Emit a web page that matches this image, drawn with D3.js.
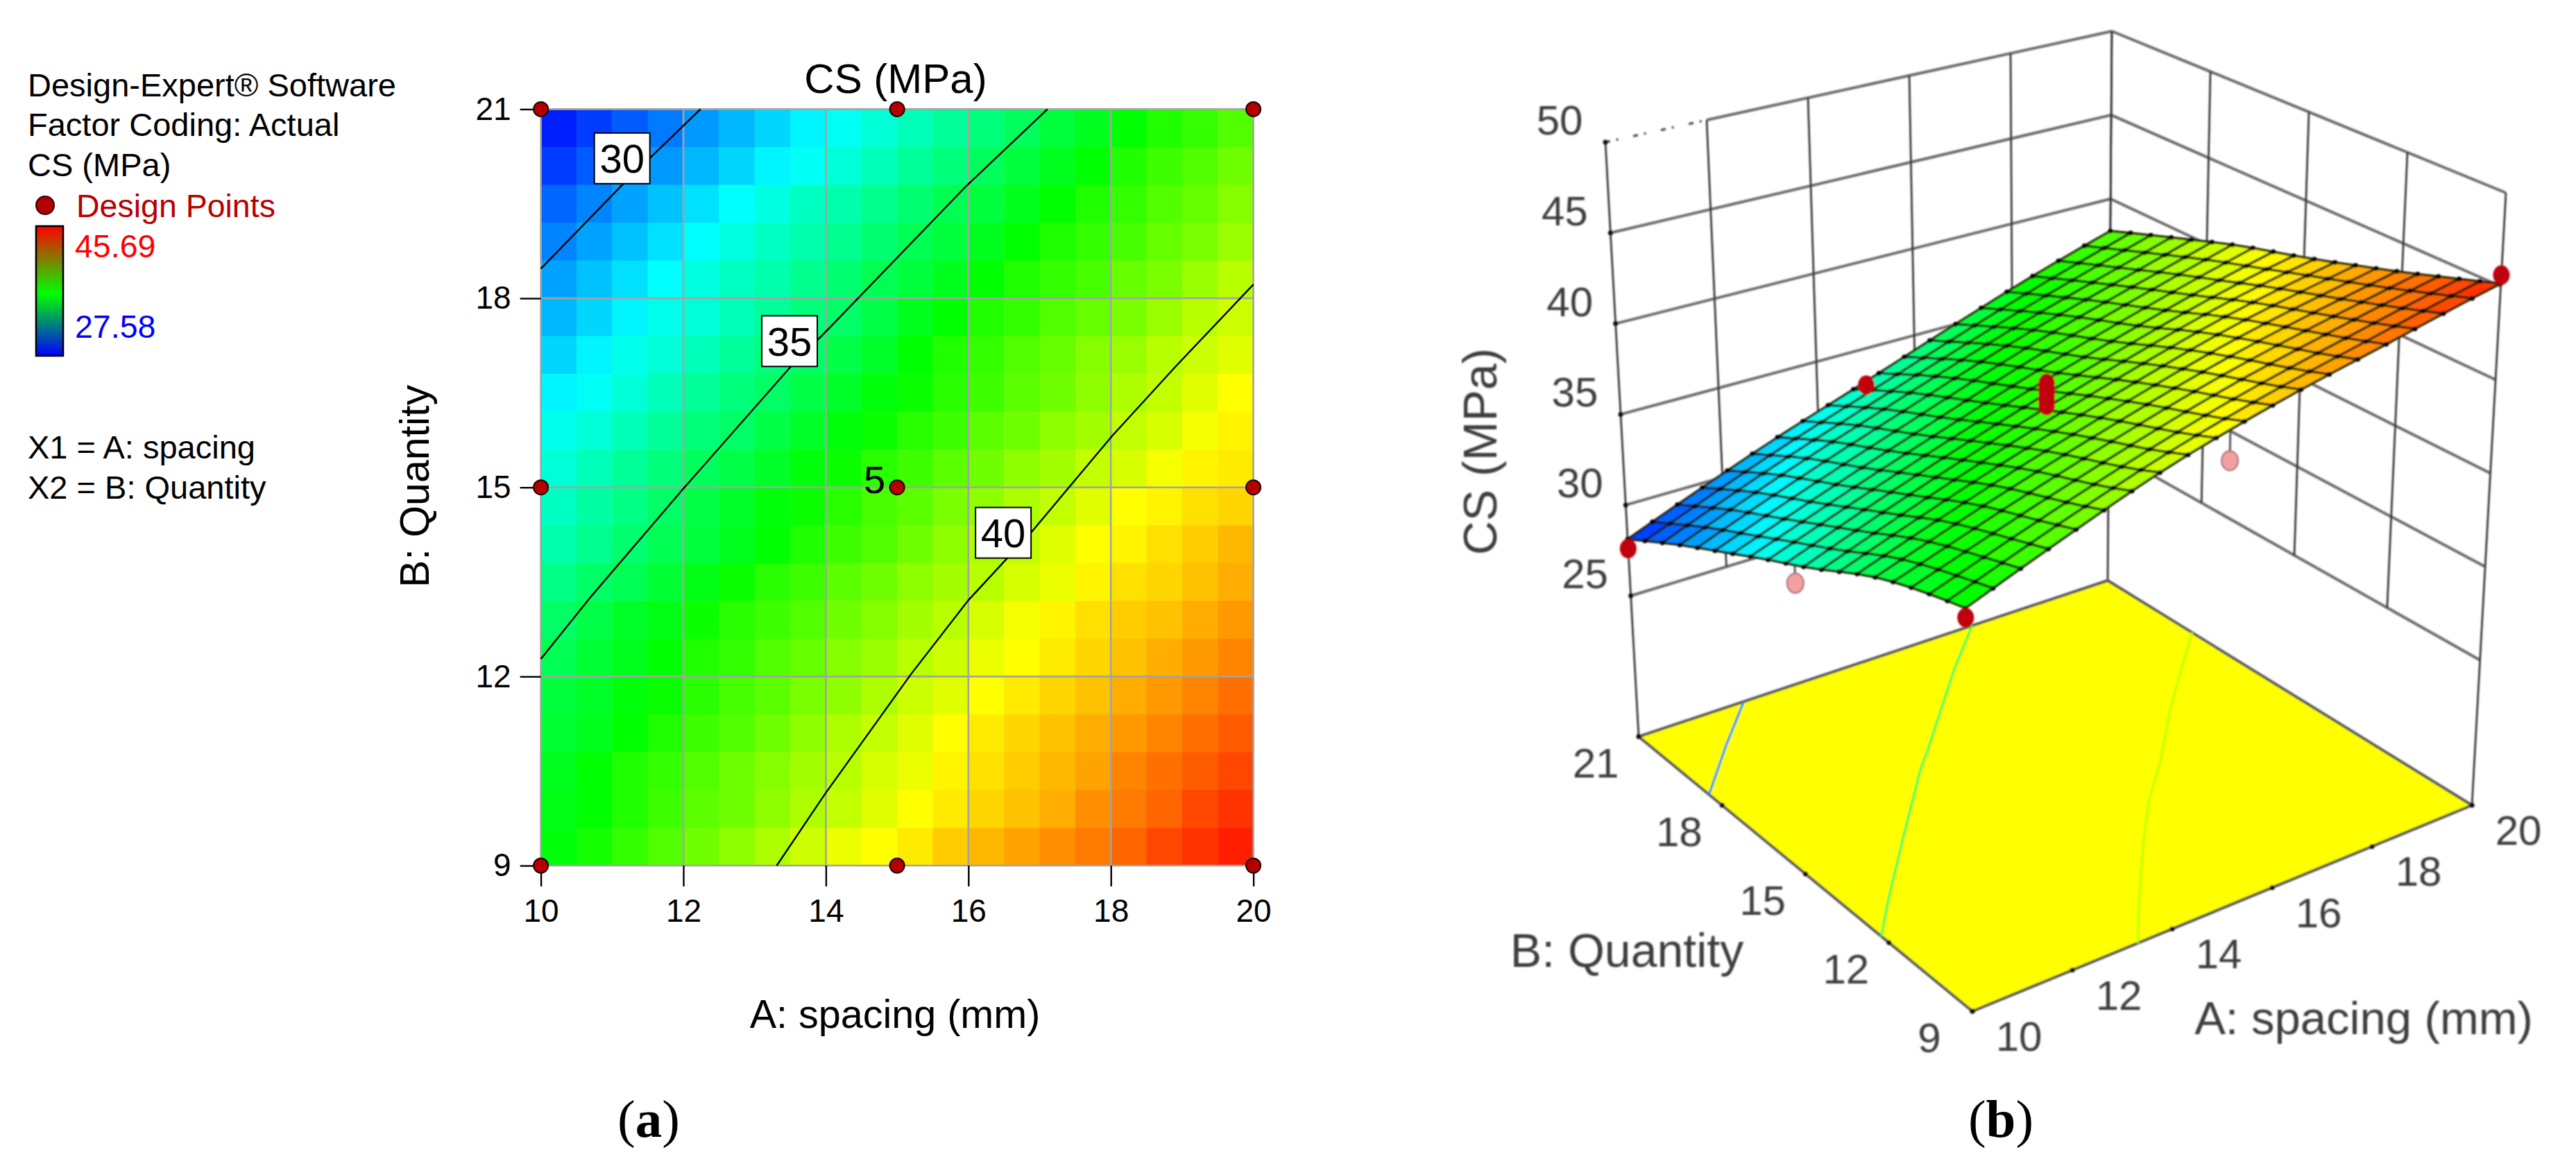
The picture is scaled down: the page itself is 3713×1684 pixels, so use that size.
<!DOCTYPE html>
<html><head><meta charset="utf-8">
<script src="https://cdnjs.cloudflare.com/ajax/libs/d3/7.8.5/d3.min.js"></script>
<style>
html,body{margin:0;padding:0;background:#fff}
text{font-family:"Liberation Sans",Arial,sans-serif}
</style></head><body><svg id="c" width="3713" height="1684"></svg>
<script>
// ---------- data ----------
const aTicks=[10,12,14,16,18,20];
const bTicks=[9,12,15,18,21];
const zTicks=[25,30,35,40,45,50];
const csMin=27.58, csMax=45.69;
const legendLines=["Design-Expert® Software","Factor Coding: Actual","CS (MPa)"];
const factorLines=["X1 = A: spacing","X2 = B: Quantity"];
// colour position of each grid cell: 0 = 27.58 MPa (blue), 100 = 45.69 MPa (red). Row 0 is B = 21, column 0 is A = 10.
const cellLevel=[
[3,6,9,12,15,18,21,24,26,29,32,35,38,41,44,47,50,53,55,58],
[6,9,12,15,18,21,24,26,29,32,35,38,41,44,47,50,53,56,58,61],
[10,13,16,19,22,25,28,31,33,36,39,42,44,47,50,53,55,58,60,63],
[13,16,19,22,25,28,31,33,36,39,42,44,47,50,53,55,57,60,62,65],
[16,19,22,25,28,31,33,36,39,42,44,47,50,53,55,57,60,62,65,68],
[18,21,24,27,29,32,35,38,40,43,47,50,53,55,58,60,62,65,68,70],
[21,24,27,29,32,35,38,40,43,46,50,53,55,58,60,63,65,68,70,72],
[24,26,29,32,35,38,40,43,46,49,51,54,56,59,61,64,67,69,72,75],
[27,29,32,35,38,40,43,46,49,51,54,56,59,61,64,66,69,71,74,76],
[29,32,35,38,41,43,46,49,51,54,56,59,61,64,66,69,71,74,76,77],
[31,34,37,40,43,46,49,51,54,57,59,62,64,67,69,72,75,76,78,79],
[33,36,39,42,44,47,50,53,56,58,61,64,67,69,72,75,76,78,80,82],
[37,40,42,45,48,51,54,56,59,61,64,66,68,71,73,76,78,79,81,83],
[40,43,46,48,51,54,56,58,61,63,66,68,71,74,76,78,80,81,83,85],
[42,45,47,50,53,55,58,60,63,65,68,70,73,75,77,79,81,83,85,87],
[44,46,49,51,54,57,59,62,64,67,70,72,75,77,79,81,83,85,87,89],
[45,47,50,53,56,58,61,64,67,69,72,75,77,79,81,83,85,87,89,91],
[47,50,53,55,58,61,63,66,68,71,73,76,78,80,82,84,87,89,91,93],
[48,50,53,56,59,61,64,67,69,72,75,77,79,81,83,86,88,90,93,95],
[49,52,55,58,61,64,67,70,73,75,77,80,82,84,86,88,90,93,95,97]];
const contour30=[[10,18.47],[11.16,19.82],[12.24,21]];
const contour35=[[10,12.28],[10.72,13.29],[12,14.98],[13.51,16.92],[13.99,17.46],[15.97,19.78],[17.11,21]];
const contour40=[[13.31,9],[13.99,10.14],[15.19,12.03],[16,13.21],[16.9,14.31],[18.02,15.82],[18.91,16.92],[20,18.22]];
const contourLevels=[30,35,40];
const contourLabelAt=[[11.14,20.22],[13.49,17.32],[16.49,14.28]];
const designA=[10,15,20,10,15,20,10,15,20];
const designB=[21,21,21,15,15,15,9,9,9];
// measured CS at the design points, including the centre replicates, as placed in the 3D view
const pointA=[10,15,20,10,20,10,15,20,15,15,15,15,15];
const pointB=[21,21,21,15,15,9,9,9,15,15,15,15,15];
const pointCS=[27.6,32.9,37.4,32.1,41.0,36.0,39.8,45.6,37.5,37.8,38.1,38.4,38.7];
const pointHidden=[0,0,1,1,1,0,1,0,0,0,0,0,0];

const svg=d3.select("#c");
svg.append("rect").attr("width",3713).attr("height",1684).attr("fill","#fff");
const level2color=d3.scaleLinear().domain([0,25,50,75,100]).range(["#0000ff","#00ffff","#00ff00","#ffff00","#ff0000"]).clamp(true);
const level2cs=d3.scaleLinear().domain([0,100]).range([csMin,csMax]);
const cs2level=level2cs.copy().domain([csMin,csMax]).range([0,100]);

// ---------- panel (a) ----------
const xA=d3.scaleLinear().domain([10,20]).range([779.6,1806.6]);
const yB=d3.scaleLinear().domain([9,21]).range([1248,157.4]);
const gA=svg.append("g");
const nCols=cellLevel[0].length,nRows=cellLevel.length;
const colA=d3.scaleLinear().domain([0,nCols]).range([10,20]);
const rowB=d3.scaleLinear().domain([0,nRows]).range([21,9]);
cellLevel.forEach((row,r)=>{
  gA.append("g").selectAll("rect").data(row).join("rect")
   .attr("x",(d,c)=>xA(colA(c))).attr("y",yB(rowB(r)))
   .attr("width",(d,c)=>xA(colA(c+1))-xA(colA(c))+0.5)
   .attr("height",yB(rowB(r+1))-yB(rowB(r))+0.5)
   .attr("fill",d=>level2color(d));
});
// grid
const grid=gA.append("g").attr("stroke","#a3a3a3").attr("stroke-width",2.6);
aTicks.forEach(a=>grid.append("line").attr("x1",xA(a)).attr("x2",xA(a)).attr("y1",yB(9)).attr("y2",yB(21)));
bTicks.forEach(b=>grid.append("line").attr("y1",yB(b)).attr("y2",yB(b)).attr("x1",xA(10)).attr("x2",xA(20)));
// contours
const lineA=d3.line().x(d=>xA(d[0])).y(d=>yB(d[1]));
[contour30,contour35,contour40].forEach(c=>gA.append("path").attr("d",lineA(c)).attr("fill","none").attr("stroke","#000").attr("stroke-width",2.4));
// contour labels
contourLevels.forEach((lv,i)=>{
  const [a,b]=contourLabelAt[i];
  gA.append("rect").attr("x",xA(a)-40).attr("y",yB(b)-36.5).attr("width",80).attr("height",73).attr("fill","#fff").attr("stroke","#000").attr("stroke-width",2);
  gA.append("text").attr("x",xA(a)).attr("y",yB(b)+21).attr("text-anchor","middle").attr("font-size",58).text(lv);
});
// axes
const axX=gA.append("g").attr("transform",`translate(0,${yB(9)})`).call(d3.axisBottom(xA).tickValues(aTicks).tickSize(30).tickPadding(18).tickSizeOuter(0));
const axY=gA.append("g").attr("transform",`translate(${xA(10)},0)`).call(d3.axisLeft(yB).tickValues(bTicks).tickSize(30).tickPadding(13).tickSizeOuter(0));
[axX,axY].forEach(ax=>{ax.select(".domain").remove();ax.selectAll("line").attr("stroke","#000").attr("stroke-width",2.4);ax.selectAll("text").attr("font-size",46).attr("fill","#000").style("font-family","'Liberation Sans'");});
// design points
gA.append("g").selectAll("circle").data(designA).join("circle")
 .attr("cx",d=>xA(d)).attr("cy",(d,i)=>yB(designB[i])).attr("r",10.5)
 .attr("fill","#b30000").attr("stroke","#200").attr("stroke-width",2);
gA.append("text").attr("x",xA(15)-17).attr("y",yB(15)+8).attr("text-anchor","end").attr("font-size",56).text("5");
gA.append("text").attr("x",1291).attr("y",134).attr("text-anchor","middle").attr("font-size",60).text("CS (MPa)");
gA.append("text").attr("x",1290).attr("y",1482).attr("text-anchor","middle").attr("font-size",57.5).text("A: spacing (mm)");
gA.append("text").attr("transform","translate(618,701) rotate(-90)").attr("text-anchor","middle").attr("font-size",59).text("B: Quantity");

// legend
const legendY=[139,196,254];
legendLines.forEach((t,i)=>gA.append("text").attr("x",40).attr("y",legendY[i]).attr("font-size",47).text(t));
gA.append("circle").attr("cx",65).attr("cy",296).attr("r",13).attr("fill","#b30000").attr("stroke","#300").attr("stroke-width",2);
gA.append("text").attr("x",110).attr("y",313).attr("font-size",46.5).attr("fill","#b80000").text("Design Points");
const defs=svg.append("defs");
const lg=defs.append("linearGradient").attr("id","cb").attr("x1",0).attr("x2",0).attr("y1",0).attr("y2",1);
lg.append("stop").attr("offset","0%").attr("stop-color","#ff0000");
lg.append("stop").attr("offset","52%").attr("stop-color","#00ff00");
lg.append("stop").attr("offset","100%").attr("stop-color","#0000ff");
gA.append("rect").attr("x",52).attr("y",326).attr("width",39).attr("height",187).attr("fill","url(#cb)").attr("stroke","#000").attr("stroke-width",2.6);
gA.append("text").attr("x",108).attr("y",371).attr("font-size",46.5).attr("fill","#ff0000").text(csMax.toFixed(2));
gA.append("text").attr("x",108).attr("y",487).attr("font-size",46.5).attr("fill","#0000ff").text(csMin.toFixed(2));
const fY=[661,719];
factorLines.forEach((t,i)=>gA.append("text").attr("x",40).attr("y",fY[i]).attr("font-size",47).text(t));

// ---------- panel (b): projection through the four vertical box edges ----------
const zFloor=17.24, zTop=50;
const uA=d3.scaleLinear().domain([10,20]).range([0,1]);
const vB=d3.scaleLinear().domain([9,21]).range([0,1]);
const edgeFL={x:d3.scaleLinear().domain([zFloor,zTop]).range([2843,2826]),y:d3.scaleLinear().domain([zFloor,zTop]).range([1458,467])};
const edgeFR={x:d3.scaleLinear().domain([zFloor,zTop]).range([3563,3612]),y:d3.scaleLinear().domain([zFloor,zTop]).range([1161,278])};
const edgeBL={x:d3.scaleLinear().domain([zFloor,zTop]).range([2362,2314]),y:d3.scaleLinear().domain([zFloor,zTop]).range([1062,205])};
const edgeBR={x:d3.scaleLinear().domain([zFloor,zTop]).range([3038,3044]),y:d3.scaleLinear().domain([zFloor,zTop]).range([837,45])};
function proj(a,b,z){
  const u=uA(a),v=vB(b);
  const f=k=>(1-u)*(1-v)*edgeFL[k](z)+u*(1-v)*edgeFR[k](z)+(1-u)*v*edgeBL[k](z)+u*v*edgeBR[k](z);
  return [f("x"),f("y")];
}
defs.append("filter").attr("id","soft").attr("x","-5%").attr("y","-5%").attr("width","110%").attr("height","110%")
  .append("feGaussianBlur").attr("stdDeviation",1.1);
const gB=svg.append("g").attr("filter","url(#soft)");
const path3=d3.line();
function seg(p,q,stroke,w,dash){const l=gB.append("path").attr("d",path3([p,q])).attr("stroke",stroke).attr("stroke-width",w).attr("fill","none");if(dash)l.attr("stroke-dasharray",dash);return l;}
const z25=zTicks[0];
// horizontal wall lines
zTicks.forEach(z=>{
  if(z===50){
    seg(proj(10,21,z),proj(12,21,z),"#555",3.5,"7 9 3 22");
    seg(proj(12,21,z),proj(20,21,z),"#6a6a6a",4);
  } else seg(proj(10,21,z),proj(20,21,z),"#6a6a6a",4);
  seg(proj(20,21,z),proj(20,9,z),"#6a6a6a",4);
});
// vertical wall lines
aTicks.forEach(a=>seg(proj(a,21,z25),proj(a,21,zTop),"#2b2b2b",2.6));
bTicks.forEach(b=>seg(proj(20,b,z25),proj(20,b,zTop),"#2b2b2b",2.6));
seg(proj(10,21,zFloor),proj(10,21,z25),"#2b2b2b",2.6);
seg(proj(20,21,zFloor),proj(20,21,z25),"#2b2b2b",2.6);
seg(proj(20,9,zFloor),proj(20,9,z25),"#2b2b2b",2.6);
// floor
gB.append("path").attr("d",path3([[10,9],[20,9],[20,21],[10,21]].map(d=>proj(d[0],d[1],zFloor)))+"Z")
 .attr("fill","#ffff00").attr("stroke","#555").attr("stroke-width",4);
[contour30,contour35,contour40].forEach((c,i)=>gB.append("path").attr("d",path3(c.map(d=>proj(d[0],d[1],zFloor))))
  .attr("fill","none").attr("stroke",level2color(cs2level(contourLevels[i]))).attr("stroke-width",3.2));
// floor ticks
aTicks.forEach(a=>{const p=proj(a,9,zFloor);gB.append("circle").attr("cx",p[0]).attr("cy",p[1]).attr("r",3.5).attr("fill","#111");});
bTicks.forEach(b=>{const p=proj(10,b,zFloor);gB.append("circle").attr("cx",p[0]).attr("cy",p[1]).attr("r",3.5).attr("fill","#111");});
zTicks.forEach(z=>{const p=proj(10,21,z);gB.append("circle").attr("cx",p[0]).attr("cy",p[1]).attr("r",3.5).attr("fill","#111");});
// surface heights: the read cell levels, lightly smoothed so the mesh is not stepped by rounding.
// The grid is padded by odd reflection first so that the blur keeps the corner levels.
const mA=d3.scaleLinear().domain([0,nCols-1]).range([10,20]);
const mB=d3.scaleLinear().domain([0,nRows-1]).range([21,9]);
const pad=5,pW=nCols+2*pad,pH=nRows+2*pad;
function reflect(i,n){return i<0?[0,-i]:i>=n?[n-1,2*(n-1)-i]:[i,i];}
function paddedAt(r,c){
  const [r0,r1]=reflect(r,nRows),[c0,c1]=reflect(c,nCols);
  const rowVal=k=>r0===r1?cellLevel[r0][k]:2*cellLevel[r0][k]-cellLevel[r1][k];
  return c0===c1?rowVal(c0):2*rowVal(c0)-rowVal(c1);
}
const flatP=[];
for(let r=-pad;r<nRows+pad;r++)for(let c=-pad;c<nCols+pad;c++)flatP.push(paddedAt(r,c));
d3.blur2({data:flatP,width:pW},1);
const lvl=(r,c)=>flatP[(r+pad)*pW+c+pad];
// points hidden below / behind the surface, with their stems up to the surface
function pts(flag,fill,stroke){
  pointCS.forEach((z,i)=>{ if(pointHidden[i]!==flag)return;
    const p=proj(pointA[i],pointB[i],z);
    if(flag){
      const r=Math.round(mB.invert(pointB[i])),c=Math.round(mA.invert(pointA[i]));
      seg(p,proj(pointA[i],pointB[i],level2cs(lvl(r,c))),"#555",3);
    }
    gB.append("ellipse").attr("cx",p[0]).attr("cy",p[1]).attr("rx",12).attr("ry",14).attr("fill",fill).attr("stroke",flag?stroke:"none").attr("stroke-width",2);
  });
}
pts(1,"#f2a0a0","#a07070");
// surface mesh
const quads=[];
for(let r=0;r<nRows-1;r++)for(let c=nCols-2;c>=0;c--){
  const lv=[lvl(r,c),lvl(r,c+1),lvl(r+1,c+1),lvl(r+1,c)];
  const pp=[[r,c],[r,c+1],[r+1,c+1],[r+1,c]].map((rc,i)=>proj(mA(rc[1]),mB(rc[0]),level2cs(lv[i])));
  quads.push({pp,lv:d3.mean(lv)});
}
gB.append("g").selectAll("path").data(quads).join("path")
 .attr("d",d=>path3(d.pp)+"Z").attr("fill",d=>level2color(d.lv)).attr("stroke","#1c2400").attr("stroke-width",3.3).attr("stroke-linejoin","round");
// mesh nodes
const nodes=[];
d3.range(nRows).forEach(r=>d3.range(nCols).forEach(c=>nodes.push(proj(mA(c),mB(r),level2cs(lvl(r,c))))));
gB.append("g").selectAll("circle").data(nodes).join("circle").attr("cx",d=>d[0]).attr("cy",d=>d[1]).attr("r",3.4).attr("fill","#000");
pts(0,"#c00010","#500");
// labels
const t3=(x,y,s,size,anchor)=>gB.append("text").attr("x",x).attr("y",y).attr("text-anchor",anchor||"middle").attr("font-size",size).attr("fill","#3c3c3c").text(s);
zTicks.forEach(z=>{const p=proj(10,21,z);t3(p[0]-66,p[1]-32+21,z,60);});
bTicks.forEach(b=>{const p=proj(10,b,zFloor);t3(p[0]-62,p[1]+38+21,b,60);});
aTicks.forEach(a=>{const p=proj(a,9,zFloor);t3(p[0]+67,p[1]+36+21,a,60);});
t3(2345,1394,"B: Quantity",68);
t3(3407,1491,"A: spacing (mm)",67);
gB.append("text").attr("transform","translate(2157,651) rotate(-90)").attr("text-anchor","middle").attr("font-size",68).attr("fill","#3c3c3c").text("CS (MPa)");

// ---------- panel captions ----------
function caption(x,l){
  const t=svg.append("text").attr("x",x).attr("y",1639).attr("text-anchor","middle").attr("font-size",77).style("font-family","'Liberation Serif'");
  t.append("tspan").text("(");t.append("tspan").attr("font-weight","bold").text(l);t.append("tspan").text(")");
}
caption(935,"a");caption(2884,"b");
</script></body></html>
